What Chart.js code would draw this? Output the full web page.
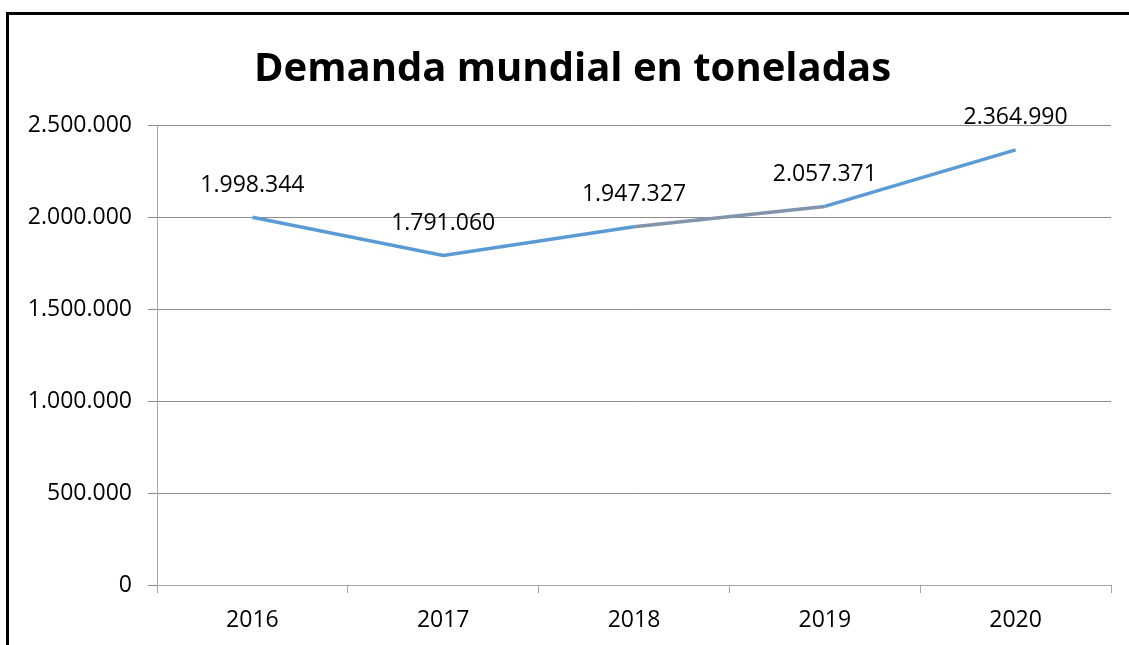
<!DOCTYPE html>
<html>
<head>
<meta charset="utf-8">
<script src="https://cdn.jsdelivr.net/npm/chart.js@4"></script>
<style>
  html, body { margin: 0; padding: 0; background: #fff; }
  #wrap { position: relative; width: 1129px; height: 645px; overflow: hidden; }
  #frame { position: absolute; left: 6px; top: 12px; width: 1200px; height: 700px;
           border-left: 3px solid #000; border-top: 3px solid #000; pointer-events: none; }
</style>
</head>
<body>
<div id="wrap">
  <canvas id="chart" width="1129" height="645"></canvas>
  <div id="frame"></div>
</div>
<script>
// Datos del gráfico
const years = ['2016', '2017', '2018', '2019', '2020'];
const demand = [1998344, 1791060, 1947327, 2057371, 2364990];
const chartTitle = 'Demanda mundial en toneladas';

// Formato con punto como separador de miles
function fmt(n) {
    return String(Math.round(n)).replace(/\B(?=(\d{3})+(?!\d))/g, '.');
}

// Etiquetas de valor encima de cada punto
const valueLabels = {
    id: 'valueLabels',
    afterDatasetsDraw(chart) {
        const ctx = chart.ctx;
        const meta = chart.getDatasetMeta(0);
        ctx.save();
        ctx.font = '23px "Open Sans"';
        ctx.fillStyle = '#000';
        ctx.textAlign = 'center';
        ctx.textBaseline = 'middle';
        meta.data.forEach((pt, i) => {
            ctx.fillText(fmt(demand[i]), pt.x, pt.y - 32);
        });
        ctx.restore();
    }
};

// Desplaza el título un poco a la derecha, como en el original
const shiftTitle = {
    id: 'shiftTitle',
    afterLayout(chart) {
        if (chart.titleBlock) {
            chart.titleBlock.left += 17;
            chart.titleBlock.right += 17;
        }
    }
};

const ctx = document.getElementById('chart').getContext('2d');
new Chart(ctx, {
    type: 'line',
    data: {
        labels: years,
        datasets: [{
            data: demand,
            borderColor: '#5b9bd5',
            borderWidth: 3.5,
            pointRadius: 0,
            tension: 0,
            segment: {
                borderColor: c => c.p0DataIndex === 2 ? '#8094ab' : '#5b9bd5'
            }
        }]
    },
    options: {
        responsive: false,
        animation: false,
        layout: { padding: { top: 0, right: 18, bottom: 0, left: 0 } },
        plugins: {
            legend: { display: false },
            tooltip: { enabled: false },
            title: {
                display: true,
                text: chartTitle,
                color: '#000',
                font: { family: '"Open Sans"', size: 40, weight: 'bold', lineHeight: 1.2 },
                padding: { top: 46, bottom: 31 }
            }
        },
        scales: {
            x: {
                offset: true,
                grid: {
                    offset: true,
                    drawOnChartArea: false,
                    drawTicks: true,
                    tickLength: 8,
                    color: '#a6a6a6'
                },
                border: { color: '#a6a6a6', width: 1 },
                ticks: {
                    color: '#000',
                    font: { family: '"Open Sans"', size: 23 },
                    padding: 14
                },
                afterFit(scale) { scale.height = 60; }
            },
            y: {
                min: 0,
                max: 2500000,
                grid: {
                    color: '#8c8c8c',
                    drawTicks: true,
                    tickLength: 9
                },
                border: { color: '#a6a6a6', width: 1 },
                ticks: {
                    stepSize: 500000,
                    color: '#000',
                    font: { family: '"Open Sans"', size: 23 },
                    padding: 16,
                    callback: v => fmt(v)
                },
                afterFit(scale) { scale.width = 157; }
            }
        }
    },
    plugins: [valueLabels, shiftTitle]
});
</script>
</body>
</html>
